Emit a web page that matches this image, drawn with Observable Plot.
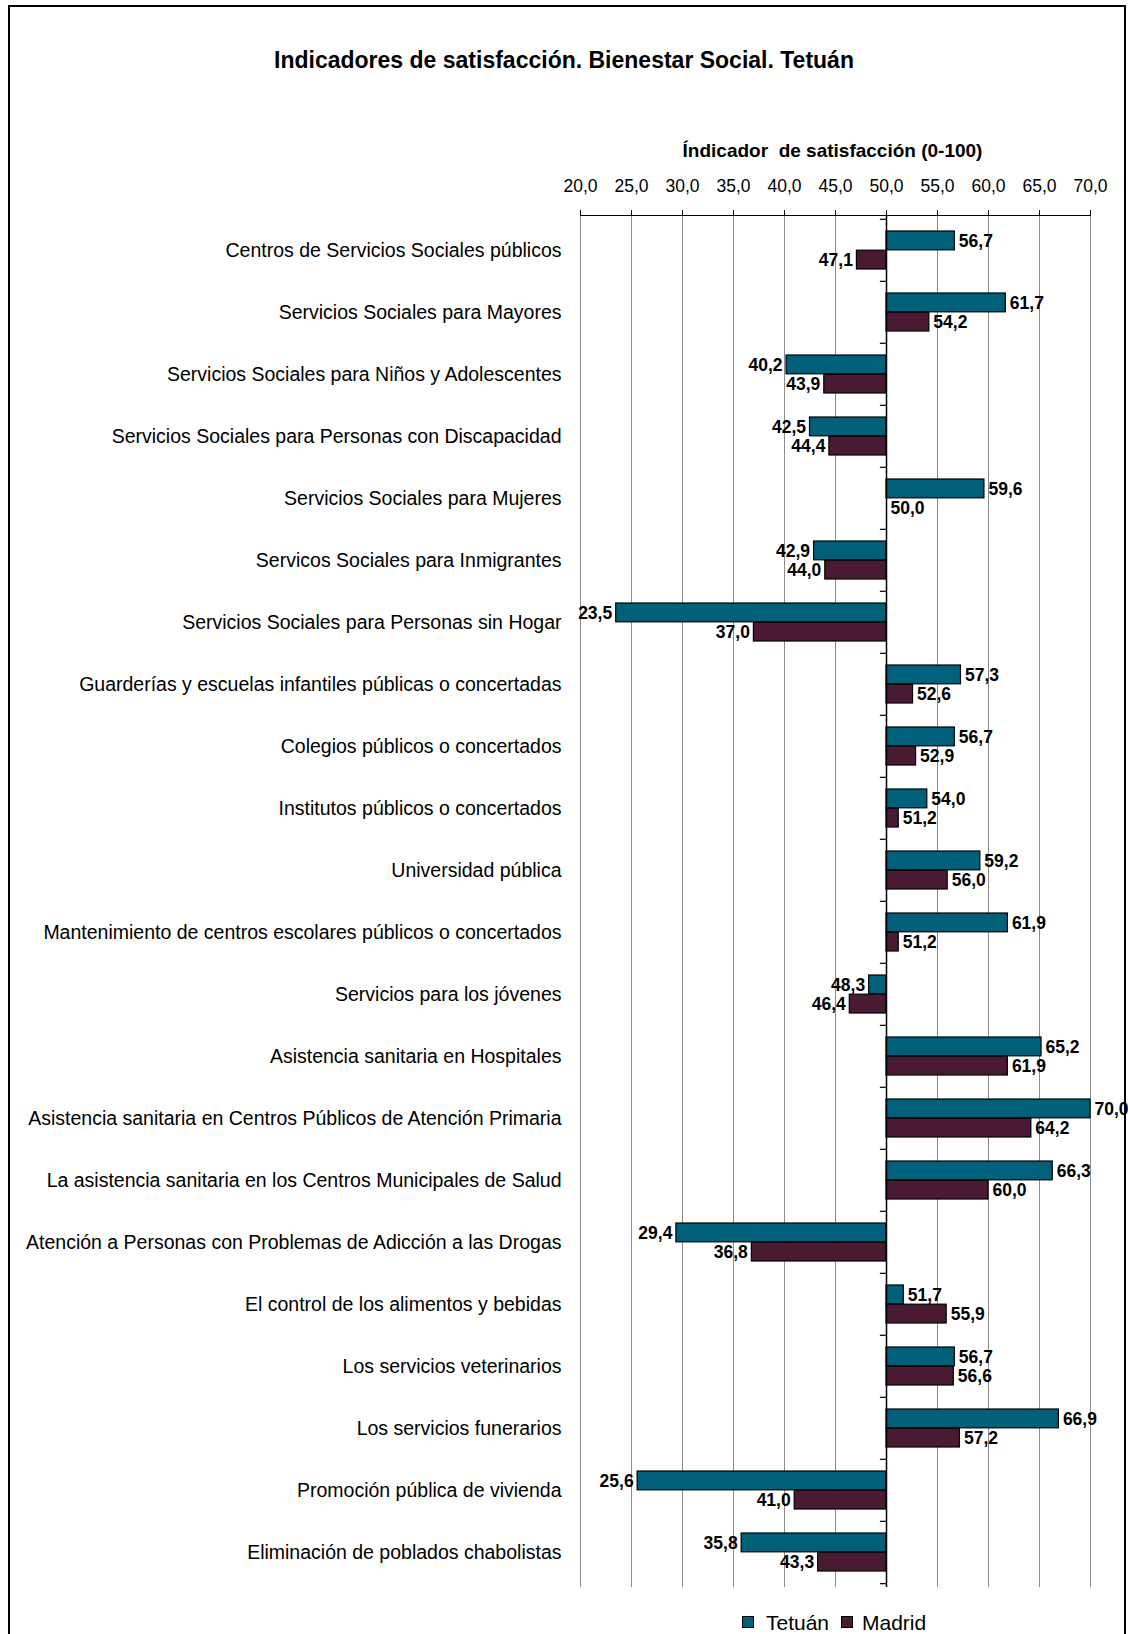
<!DOCTYPE html>
<html>
<head>
<meta charset="utf-8">
<script src="https://cdn.jsdelivr.net/npm/d3@7"></script>
<script src="https://cdn.jsdelivr.net/npm/@observablehq/plot@0.6"></script>
<style>
  html, body { margin: 0; padding: 0; background: #fff; }
  body { font-family: "Liberation Sans", Arial, sans-serif; }
  #wrap { position: relative; width: 1128px; height: 1634px; overflow: hidden; }
  #frame { position: absolute; left: 8px; top: 5px; width: 1118px; height: 1700px; border: 2px solid #000; box-sizing: border-box; }
  #title { position: absolute; left: 0; width: 1128px; top: 47px; text-align: center; font-weight: bold; font-size: 23px; line-height: 27px; color: #000; }
  #xtitle { position: absolute; left: 535px; width: 595px; top: 140px; text-align: center; font-weight: bold; font-size: 19px; line-height: 22px; white-space: pre; color: #000; }
  #legend { position: absolute; left: 0; top: 0; width: 1128px; height: 1634px; pointer-events: none; }
  #legend .sw { position: absolute; top: 1616px; width: 12px; height: 12px; border: 1px solid #000; box-sizing: border-box; }
  #legend .lab { position: absolute; top: 1612px; font-size: 21px; line-height: 21px; color: #000; white-space: nowrap; }
  #chart { position: absolute; left: 0; top: 0; }
</style>
</head>
<body>
<div id="wrap">
  <div id="frame"></div>
  <div id="chart"></div>
  <div id="title">Indicadores de satisfacción. Bienestar Social. Tetuán</div>
  <div id="xtitle">Índicador  de satisfacción (0-100)</div>
  <div id="legend"></div>
</div>
<script>
const categories = [
  "Centros de Servicios Sociales públicos",
  "Servicios Sociales para Mayores",
  "Servicios Sociales para Niños y Adolescentes",
  "Servicios Sociales para Personas con Discapacidad",
  "Servicios Sociales para Mujeres",
  "Servicos Sociales para Inmigrantes",
  "Servicios Sociales para Personas sin Hogar",
  "Guarderías y escuelas infantiles públicas o concertadas",
  "Colegios públicos o concertados",
  "Institutos públicos o concertados",
  "Universidad pública",
  "Mantenimiento de centros escolares públicos o concertados",
  "Servicios para los jóvenes",
  "Asistencia sanitaria en Hospitales",
  "Asistencia sanitaria en Centros Públicos de Atención Primaria",
  "La asistencia sanitaria en los Centros Municipales de Salud",
  "Atención a Personas con Problemas de Adicción a las Drogas",
  "El control de los alimentos y bebidas",
  "Los servicios veterinarios",
  "Los servicios funerarios",
  "Promoción pública de vivienda",
  "Eliminación de poblados chabolistas"
];
const tetuan = [56.7, 61.7, 40.2, 42.5, 59.6, 42.9, 23.5, 57.3, 56.7, 54.0, 59.2, 61.9, 48.3, 65.2, 70.0, 66.3, 29.4, 51.7, 56.7, 66.9, 25.6, 35.8];
const madrid = [47.1, 54.2, 43.9, 44.4, 50.0, 44.0, 37.0, 52.6, 52.9, 51.2, 56.0, 51.2, 46.4, 61.9, 64.2, 60.0, 36.8, 55.9, 56.6, 57.2, 41.0, 43.3];
const seriesNames = ["Tetuán", "Madrid"];
const seriesColors = ["#00607a", "#4a1a33"];
const xTicks = [20, 25, 30, 35, 40, 45, 50, 55, 60, 65, 70];
const baseline = 50;

const rowsT = categories.map((c, i) => ({cat: c, v: tetuan[i]}));
const rowsM = categories.map((c, i) => ({cat: c, v: madrid[i]}));
const fmt = d => d.v.toFixed(1).replace(".", ",");

const W = 1128, H = 1634, mT = 215, mB = 47, mL = 580, mR = 38;
const bw = (H - mT - mB) / categories.length;
const outer = 12;
const half = bw / 2;
const barMid = (half - outer) / 2;

const labelMarks = (rows, dy) => [
  Plot.text(rows.filter(d => d.v >= baseline), {x: "v", y: "cat", text: fmt, dx: 4, dy, textAnchor: "start", fontWeight: "bold", fontSize: 17.5, fill: "#000"}),
  Plot.text(rows.filter(d => d.v < baseline), {x: "v", y: "cat", text: fmt, dx: -4, dy, textAnchor: "end", fontWeight: "bold", fontSize: 17.5, fill: "#000"})
];

const chart = Plot.plot({
  width: W, height: H,
  marginTop: mT, marginBottom: mB, marginLeft: mL, marginRight: mR,
  style: {fontFamily: "Liberation Sans, Arial, sans-serif", background: "transparent", color: "#000"},
  x: {domain: [20, 70], axis: null},
  y: {domain: categories, padding: 0, axis: null},
  marks: [
    Plot.ruleX(xTicks.filter(t => t !== baseline), {stroke: "#8c8c8c", strokeWidth: 1}),
    Plot.axisX({anchor: "top", ticks: xTicks, tickFormat: d => d.toFixed(1).replace(".", ","), tickSize: 6, tickPadding: 17.5, fontSize: 17.5, label: null, stroke: "#000", strokeOpacity: 1}),
    Plot.frame({anchor: "top", stroke: "#000"}),
    Plot.axisY({anchor: "left", tickSize: 0, tickPadding: 19, fontSize: 19.5, label: null}),
    Plot.barX(rowsT, {x1: baseline, x2: "v", y: "cat", insetTop: outer, insetBottom: half, fill: seriesColors[0], stroke: "#000", strokeWidth: 1.2}),
    Plot.barX(rowsM, {x1: baseline, x2: "v", y: "cat", insetTop: half, insetBottom: outer, fill: seriesColors[1], stroke: "#000", strokeWidth: 1.2}),
    Plot.ruleX([baseline], {stroke: "#000", strokeWidth: 1.5}),
    Plot.ruleY(categories, {y: d => d, x1: baseline - 0.6, x2: baseline, dy: -half, stroke: "#000", strokeWidth: 1.2}),
    Plot.ruleY([categories[categories.length - 1]], {y: d => d, x1: baseline - 0.6, x2: baseline, dy: half, stroke: "#000", strokeWidth: 1.2}),
    ...labelMarks(rowsT, -barMid),
    ...labelMarks(rowsM, barMid)
  ]
});
document.getElementById("chart").appendChild(chart);

const legend = document.getElementById("legend");
const swLeft = [742, 841], labLeft = [766, 862];
seriesNames.forEach((n, i) => {
  const sw = document.createElement("div");
  sw.className = "sw";
  sw.style.left = swLeft[i] + "px";
  sw.style.background = seriesColors[i];
  legend.appendChild(sw);
  const lab = document.createElement("div");
  lab.className = "lab";
  lab.style.left = labLeft[i] + "px";
  lab.textContent = n;
  legend.appendChild(lab);
});
</script>
</body>
</html>
